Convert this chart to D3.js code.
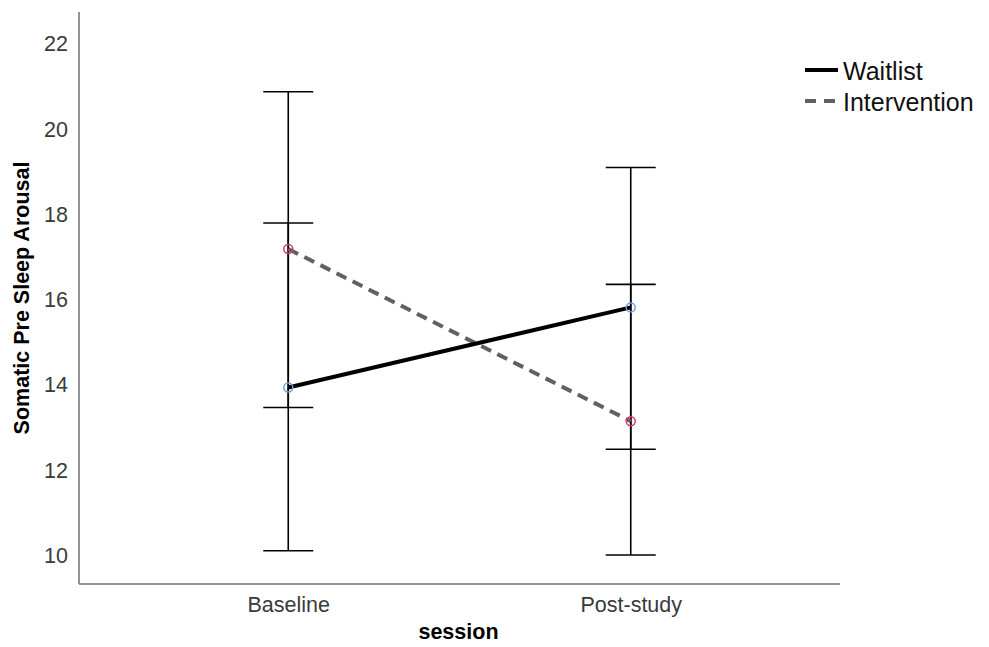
<!DOCTYPE html>
<html>
<head>
<meta charset="utf-8">
<script src="https://cdn.jsdelivr.net/npm/d3@7"></script>
<style>
  body { margin: 0; background: #fff; }
  svg { display: block; font-family: 'Liberation Sans', Arial, sans-serif; }
</style>
</head>
<body>
<svg id="chart" width="989" height="647"></svg>
<script>
// data
const sessions = ['Baseline', 'Post-study'];
const groups = ['Waitlist', 'Intervention'];
const waitlistMean = [13.94, 15.82];
const waitlistLow = [10.11, 12.49];
const waitlistHigh = [17.80, 19.10];
const interventionMean = [17.19, 13.15];
const interventionLow = [13.47, 10.01];
const interventionHigh = [20.88, 16.36];
const yTicks = [10, 12, 14, 16, 18, 20, 22];

const svg = d3.select('#chart');
const m = { left: 79, right: 149, top: 12, bottom: 63 };
const W = 989, H = 647;

const x = d3.scalePoint().domain(sessions).range([m.left, W - m.right]).padding(0.611);
const y = d3.scaleLinear().domain([9.33, 22.75]).range([H - m.bottom, m.top]);

const series = [
  { name: groups[0], mean: waitlistMean, lo: waitlistLow, hi: waitlistHigh, color: '#000', dash: null, marker: '#6d9fe0' },
  { name: groups[1], mean: interventionMean, lo: interventionLow, hi: interventionHigh, color: '#5b6461', dash: '11,7', marker: '#e0335f' }
];

// axes
const yAxis = svg.append('g').attr('transform', `translate(${m.left},0)`)
  .call(d3.axisLeft(y).tickValues(yTicks).tickSize(0).tickPadding(11));
const xAxis = svg.append('g').attr('transform', `translate(0,${H - m.bottom})`)
  .call(d3.axisBottom(x).tickSize(0).tickPadding(13));
[yAxis, xAxis].forEach(a => {
  a.select('.domain').attr('stroke', '#707070').attr('stroke-width', 1.5);
  a.selectAll('text').attr('font-size', 21.5).attr('fill', '#3a3a3a')
    .attr('font-family', "'Liberation Sans', Arial, sans-serif");
});
yAxis.select('.domain').attr('d', `M0,${y.range()[1]}V${y.range()[0]}`);
xAxis.select('.domain').attr('d', `M${m.left},0H${W - m.right}`);

svg.append('text')
  .attr('transform', `translate(29,${(y(9.33) + y(22.75)) / 2}) rotate(-90)`)
  .attr('text-anchor', 'middle').attr('font-weight', 'bold').attr('font-size', 21.5)
  .text('Somatic Pre Sleep Arousal');
svg.append('text')
  .attr('x', (m.left + W - m.right) / 2 - 1).attr('y', 639)
  .attr('text-anchor', 'middle').attr('font-weight', 'bold').attr('font-size', 21.5)
  .text('session');

// error bars
const capW = 25;
const eb = svg.append('g').attr('stroke', '#000').attr('stroke-width', 1.6);
series.forEach(s => {
  sessions.forEach((c, i) => {
    eb.append('line').attr('x1', x(c)).attr('x2', x(c)).attr('y1', y(s.lo[i])).attr('y2', y(s.hi[i]));
    eb.append('line').attr('x1', x(c) - capW).attr('x2', x(c) + capW).attr('y1', y(s.lo[i])).attr('y2', y(s.lo[i]));
    eb.append('line').attr('x1', x(c) - capW).attr('x2', x(c) + capW).attr('y1', y(s.hi[i])).attr('y2', y(s.hi[i]));
  });
});

// mean lines
const line = d3.line().x((d, i) => x(sessions[i])).y(d => y(d));
series.slice().reverse().forEach(s => {
  svg.append('path').datum(s.mean).attr('d', line)
    .attr('fill', 'none').attr('stroke', s.color).attr('stroke-width', 4)
    .attr('stroke-dasharray', s.dash);
});
series.forEach(s => {
  svg.append('g').selectAll('circle').data(s.mean).join('circle')
    .attr('cx', (d, i) => x(sessions[i])).attr('cy', d => y(d)).attr('r', 4.5)
    .attr('fill', 'none').attr('stroke', s.marker).attr('stroke-width', 1.5);
});

// legend
const lg = svg.append('g').attr('transform', 'translate(805,70)');
series.forEach((s, i) => {
  const g = lg.append('g').attr('transform', `translate(0,${i * 31})`);
  g.append('line').attr('x1', 0).attr('x2', 33).attr('y1', 0).attr('y2', 0)
    .attr('stroke', s.color).attr('stroke-width', 4).attr('stroke-dasharray', s.dash ? '11,8' : null);
  g.append('text').attr('x', 38).attr('y', 1).attr('dy', '0.35em')
    .attr('font-size', 25).attr('fill', '#111').text(s.name);
});
</script>
</body>
</html>
